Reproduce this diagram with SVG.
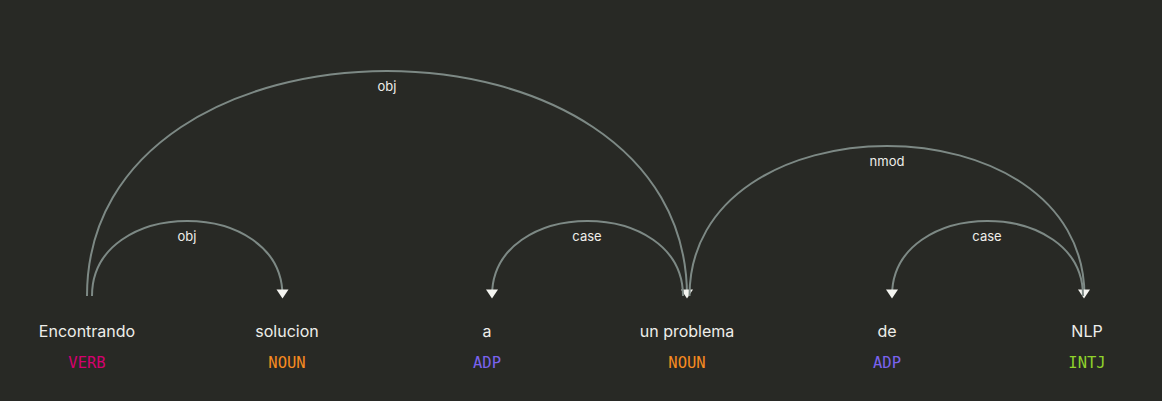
<svg xmlns="http://www.w3.org/2000/svg" width="1162" height="401" viewBox="0 0 1162 401">
<style>
.word{font-family:Inter,"Liberation Sans",sans-serif;font-size:16px;fill:#eeeeea;text-anchor:middle}
.tag{font-family:"DejaVu Sans Mono","Liberation Mono",monospace;font-size:15.5px;text-anchor:middle}
.arc{fill:none;stroke:#7d8985;stroke-width:2}
.head{fill:#f4f4f0}
.lbl{font-family:Inter,"Liberation Sans",sans-serif;font-size:13px;fill:#eeeeea;text-anchor:middle}
</style>
<rect width="1162" height="401" fill="#282925"/>
<g id="w0"><text class="word" x="87" y="337">Encontrando</text><text class="tag" x="87" y="368" fill="#d4006e">VERB</text></g>
<g id="w1"><text class="word" x="287" y="337">solucion</text><text class="tag" x="287" y="368" fill="#f78b20">NOUN</text></g>
<g id="w2"><text class="word" x="487" y="337">a</text><text class="tag" x="487" y="368" fill="#7a63ee">ADP</text></g>
<g id="w3"><text class="word" x="687" y="337">un problema</text><text class="tag" x="687" y="368" fill="#f78b20">NOUN</text></g>
<g id="w4"><text class="word" x="887" y="337">de</text><text class="tag" x="887" y="368" fill="#7a63ee">ADP</text></g>
<g id="w5"><text class="word" x="1087" y="337">NLP</text><text class="tag" x="1087" y="368" fill="#8fd22b">INTJ</text></g>
<g id="arcs">
<path class="arc" d="M92,296 C92,196 282.5,196 282.5,296"/>
<path class="head" d="M282.5,298.5 L276.5,289.5 288.5,289.5 Z"/>
<text class="lbl" x="187" y="241">obj</text>
<path class="arc" d="M87,296 C87,-4 687,-4 687,296"/>
<path class="head" d="M687,298.5 L681,289.5 693,289.5 Z"/>
<text class="lbl" x="387" y="91">obj</text>
<path class="arc" d="M492,296 C492,196 683,196 683,296"/>
<path class="head" d="M492,298.5 L486,289.5 498,289.5 Z"/>
<text class="lbl" x="587" y="241">case</text>
<path class="arc" d="M689.5,296 C689.5,96 1084.5,96 1084.5,296"/>
<path class="head" d="M1084,298.5 L1078,289.5 1090,289.5 Z"/>
<text class="lbl" x="887" y="166">nmod</text>
<path class="arc" d="M892,296 C892,196 1083,196 1083,296"/>
<path class="head" d="M892,298.5 L886,289.5 898,289.5 Z"/>
<text class="lbl" x="987" y="241">case</text>
</g>
</svg>
